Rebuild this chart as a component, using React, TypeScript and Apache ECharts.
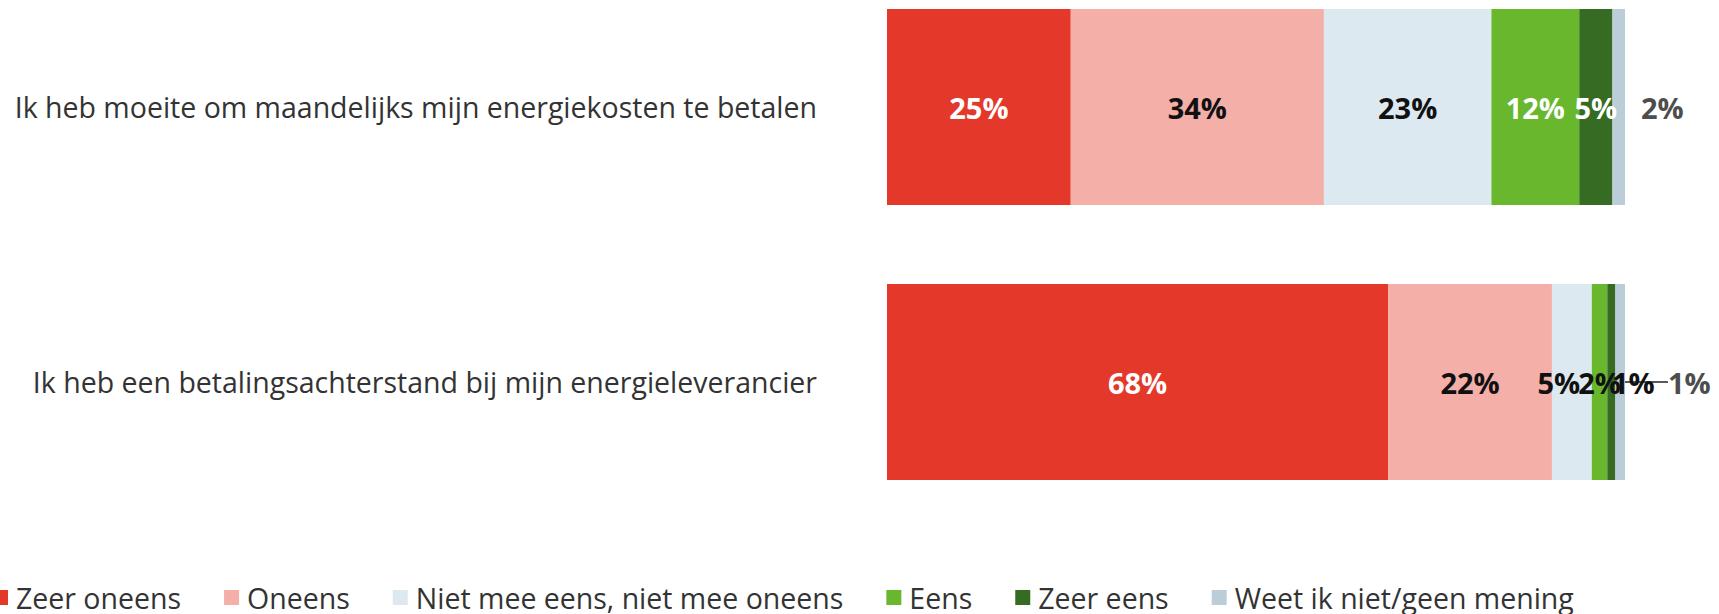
import React, { useEffect, useRef } from "react";
import * as echarts from "echarts";

const categories = [
  "Ik heb moeite om maandelijks mijn energiekosten te betalen",
  "Ik heb een betalingsachterstand bij mijn energieleverancier",
];
const seriesNames = [
  "Zeer oneens",
  "Oneens",
  "Niet mee eens, niet mee oneens",
  "Eens",
  "Zeer eens",
  "Weet ik niet/geen mening",
];
const zeerOneens = [24.9, 67.9];
const oneens = [34.3, 22.2];
const neutraal = [22.7, 5.4];
const eens = [11.9, 2.1];
const zeerEens = [4.5, 1.1];
const weetNiet = [1.7, 1.3];

const seriesValues = [zeerOneens, oneens, neutraal, eens, zeerEens, weetNiet];
const colors = ["#E3382A", "#F4AFA8", "#DDE9F0", "#68B72C", "#356B23", "#BBCDD9"];
const labelColors = [
  ["#ffffff", "#ffffff"],
  ["#111111", "#111111"],
  ["#111111", "#111111"],
  ["#ffffff", "#111111"],
  ["#ffffff", "#111111"],
  ["#4d4d4d", "#4d4d4d"],
];
const labelOffsets = [
  [[0, 0], [0, 0]],
  [[0, 0], [0, 0]],
  [[0, 0], [-13, 0]],
  [[0, 0], [0, 0]],
  [[0, 0], [22, 0]],
  [[0, 0], [0, 0]],
];
const outsideShift = [11, 38];
const showGuide = [false, true];

export default function App() {
  const ref = useRef<HTMLDivElement>(null);
  useEffect(() => {
    const chart = echarts.init(ref.current!, null, { renderer: "svg" });
    const font = "'Open Sans', sans-serif";
    const series = seriesValues.map((vals, si) => {
      const last = si === seriesValues.length - 1;
      return {
        name: seriesNames[si],
        type: "bar",
        stack: "total",
        barWidth: 196,
        clip: false,
        itemStyle: { color: colors[si] },
        label: {
          show: true,
          position: last ? "right" : "inside",
          distance: 5,
          fontFamily: font,
          fontWeight: "bold",
          fontSize: 29,
          formatter: (p: any) => Math.round(p.value) + "%",
        },
        ...(last
          ? {
              labelLayout: (p: any) => ({ dx: outsideShift[p.dataIndex] }),
              labelLine: { show: true, lineStyle: { color: "#222222", width: 1.5 } },
            }
          : {}),
        data: vals.map((v, di) => ({
          value: v,
          label: {
            color: labelColors[si][di],
            offset: labelOffsets[si][di],
          },
          ...(last ? { labelLine: { show: showGuide[di] } } : {}),
        })),
      };
    });
    chart.setOption({
      animation: false,
      color: colors,
      grid: { left: 887, right: 94, top: 107, bottom: 232, containLabel: false },
      xAxis: { type: "value", min: 0, max: 100, show: false },
      yAxis: {
        type: "category",
        inverse: true,
        boundaryGap: false,
        data: categories,
        axisLine: { show: false },
        axisTick: { show: false },
        splitLine: { show: false },
        axisLabel: {
          margin: 70,
          fontFamily: font,
          fontSize: 28.5,
          color: "#333333",
        },
      },
      legend: {
        data: seriesNames,
        left: -7,
        top: 583,
        padding: 0,
        itemGap: 43,
        itemWidth: 15,
        itemHeight: 15,
        icon: "rect",
        textStyle: { fontFamily: font, fontSize: 28.5, color: "#333333", padding: [0, 0, 0, 3] },
      },
      series,
    });
    return () => chart.dispose();
  }, []);
  return (
    <div
      ref={ref}
      style={{ position: "absolute", left: 0, top: 0, width: 1719, height: 614, background: "#fff" }}
    />
  );
}
